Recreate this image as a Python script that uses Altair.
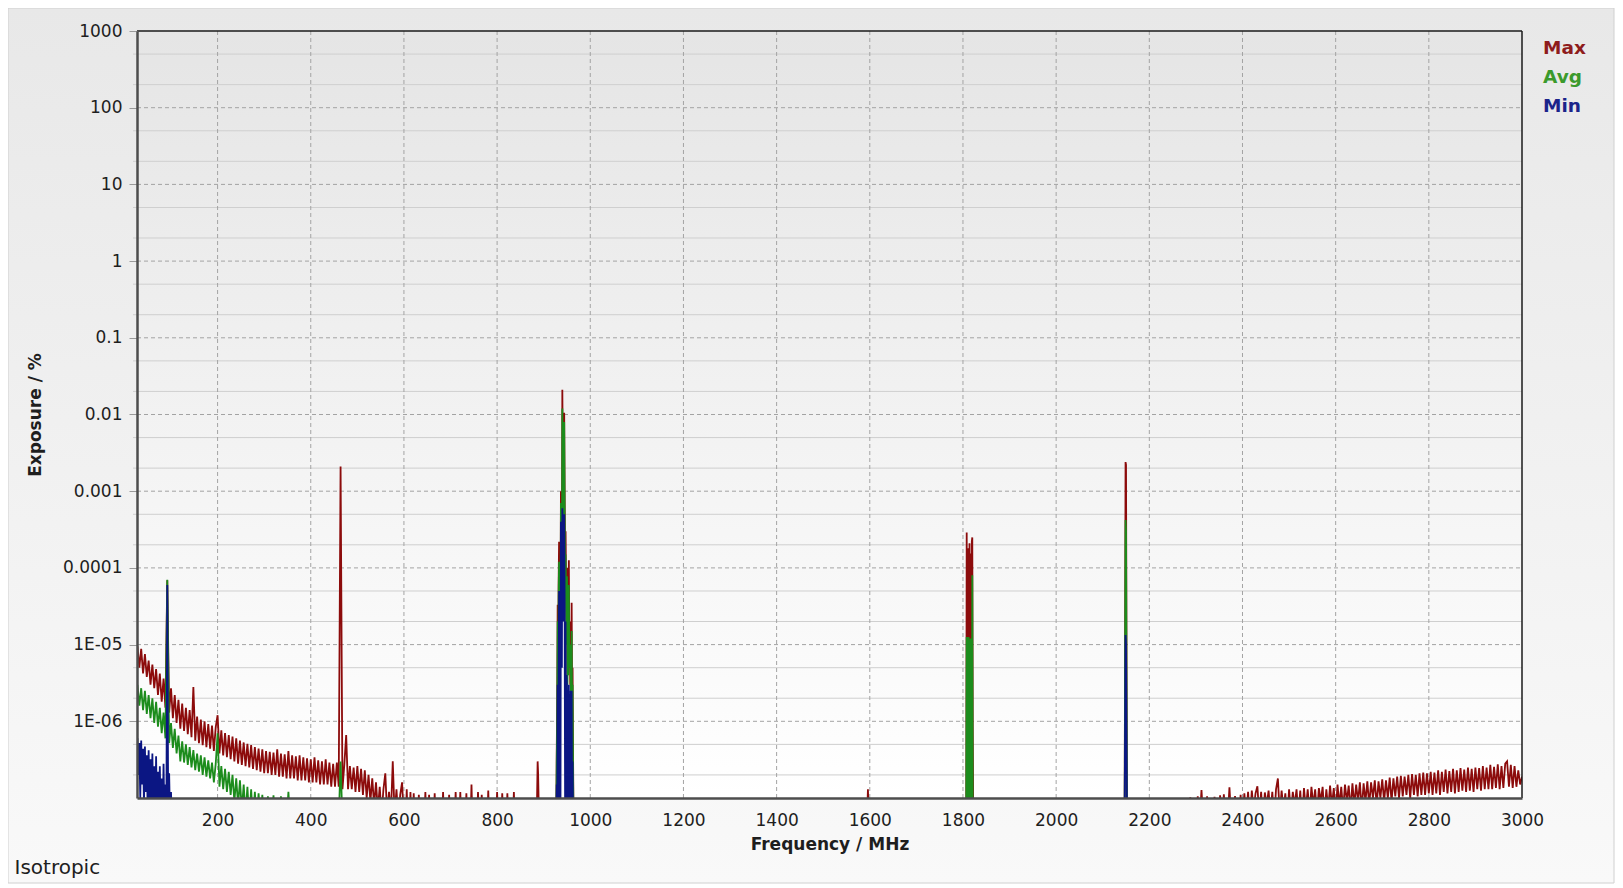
import altair as alt
import pandas as pd

# ---------------- data: Exposure (%) against Frequency (MHz) ----------------
UNIT = 1e-7      # noise-band readings below are written in units of 1e-7 %
BELOW = 5e-8     # readings under the bottom of the plotted range

X_TICKS = [200, 400, 600, 800, 1000, 1200, 1400, 1600, 1800, 2000, 2200, 2400, 2600, 2800, 3000]
X_GRID = [200, 400, 600, 800, 1000, 1200, 1400, 1600, 1800, 2000, 2200, 2400, 2600, 2800]
Y_MAJOR = [1e-6, 1e-5, 1e-4, 1e-3, 1e-2, 0.1, 1, 10, 100, 1000]
Y_GRID_MAJOR = [1e-6, 1e-5, 1e-4, 1e-3, 1e-2, 0.1, 1, 10, 100]
Y_GRID_MINOR = [2e-7, 5e-7, 2e-6, 5e-6, 2e-5, 5e-5, 2e-4, 5e-4, 2e-3, 5e-3,
                0.02, 0.05, 0.2, 0.5, 2, 5, 20, 50, 200, 500]

SERIES = ["Max", "Avg", "Min"]
SERIES_COLORS = ["#8c0b0b", "#1c8c1c", "#0b1683"]
LEGEND_COLORS = ["#8e1c1c", "#3b9a2c", "#1b248a"]

# ---- Max: low-frequency band (sweep from 28 MHz, 4 MHz apart), units of 1e-7
MAX_LOW_START, MAX_LOW_STEP = 28, 4
MAX_LOW = [
    95, 50, 88, 42, 75, 38, 62, 30, 55, 27,
    48, 22, 42, 18, 36, 15, 690, 13, 27, 11,
    22, 9.5, 19, 8, 17, 7.5, 15, 6.8, 14, 6.2,
    28, 5.6, 11.5, 5.2, 10.5, 4.9, 10, 4.6, 9.2, 4.4,
    8.8, 4.1, 8.4, 12, 3.8, 7.6, 3.6, 7.0, 3.4, 6.6,
    3.2, 6.3, 3.0, 6.0, 2.8, 5.6, 2.7, 5.3, 2.6, 5.1,
    2.5, 4.9, 2.4, 4.6, 2.3, 4.4, 2.2, 4.3, 2.1, 4.1,
    2.1, 4.0, 2.0, 3.9, 2.0, 4.3, 1.9, 3.8, 1.9, 3.7,
    1.8, 4.1, 1.8, 3.6, 1.8, 3.5, 1.7, 3.6, 1.7, 3.4,
    1.7, 3.3, 1.6, 3.2, 1.6, 3.4, 1.6, 3.1, 1.5, 3.0,
    1.5, 3.2, 1.5, 2.9, 1.4, 2.8, 1.4, 2.9, 1.4, 21000,
    1.3, 2.7, 6.6, 1.3, 2.6, 1.3, 2.5, 1.2, 2.6, 1.2,
    2.4, 1.1, 2.3, 1.0, 2.0, 0.9, 1.8, 0.8, 1.6, 0.7,
    1.4, 0.6, 1.3, 2.1, 0.6, 1.2, 0.6, 3.0, 0.6, 1.3,
    0.5, 1.1, 1.6,
]
# ---- Max: sparse spikes 600-890 MHz, units of 1e-7
MAX_MID_F = [600,
             604, 606, 608, 612, 614, 616, 619, 621, 623, 630, 632, 634,
             644, 646, 648, 652, 654, 656, 664, 666, 668, 682, 684, 686,
             695, 697, 699, 709, 711, 713, 719, 721, 723, 732, 734, 736,
             743, 745, 747, 757, 759, 761, 765, 767, 769, 779, 781, 783,
             798, 800, 802, 809, 811, 813, 820, 822, 824, 834, 836, 838,
             885, 887, 888, 890]
MAX_MID = [0.5,
           0.5, 1.3, 0.5, 0.5, 1.2, 0.5, 0.5, 1.15, 0.5, 0.5, 1.1, 0.5,
           0.5, 1.2, 0.5, 0.5, 1.1, 0.5, 0.5, 1.15, 0.5, 0.5, 1.2, 0.5,
           0.5, 1.1, 0.5, 0.5, 1.2, 0.5, 0.5, 1.2, 0.5, 0.5, 1.15, 0.5,
           0.5, 1.5, 0.5, 0.5, 1.2, 0.5, 0.5, 1.1, 0.5, 0.5, 1.25, 0.5,
           0.5, 1.2, 0.5, 0.5, 1.15, 0.5, 0.5, 1.15, 0.5, 0.5, 1.2, 0.5,
           0.5, 3.0, 2.1, 0.5]
# ---- GSM 900 cluster (1 MHz apart), values in %
CLUSTER_F = list(range(927, 965))
MAX_CLUSTER = [5e-8, 4e-7, 2e-6, 3.3e-5, 1e-6, 6e-5, 2.2e-4, 3e-6, 8e-5, 2e-5,
               1e-3, 3e-4, 5e-5, 0.021, 3e-3, 2e-4, 4e-3, 0.0105, 9e-4, 8e-5,
               3e-4, 6e-5, 2e-5, 1e-4, 4e-6, 2e-5, 5e-6, 1.26e-4, 1e-5, 2e-5,
               3e-6, 1e-5, 1e-6, 3.5e-5, 2e-6, 5e-6, 4e-7, 5e-8]
AVG_CLUSTER = [5e-8, 3e-7, 1e-6, 2e-5, 5e-7, 4e-5, 1.2e-4, 2e-6, 5e-5, 1e-5,
               7e-4, 2e-4, 3e-5, 0.012, 2e-3, 1.5e-4, 3e-3, 0.008, 5e-4, 5e-5,
               1.5e-4, 3e-5, 1e-5, 7.8e-5, 3e-6, 1.2e-5, 4e-6, 6e-5, 5e-6, 1e-5,
               7.8e-6, 4e-6, 5e-7, 1.5e-5, 8e-7, 3e-6, 2e-7, 5e-8]
MIN_CLUSTER = [5e-8, 1.5e-7, 5e-8, 3e-6, 5e-8, 5e-6, 5e-5, 5e-8, 2e-5, 5e-8,
               4e-4, 8e-5, 5e-6, 6e-4, 3e-4, 2e-5, 2e-4, 5e-4, 3e-5, 5e-8,
               2e-5, 5e-8, 4e-6, 3e-6, 5e-8, 2.5e-6, 5e-8, 3e-6, 5e-8, 2e-6,
               5e-8, 2.5e-6, 5e-8, 2.5e-6, 5e-8, 3e-7, 5e-8, 5e-8]
# ---- single spike near 1596 MHz, units of 1e-7
MAX_1596_F = [1594, 1596, 1598]
MAX_1596 = [0.5, 1.3, 0.5]
# ---- GSM 1800 cluster (1 MHz apart), values in %
GSM_F = list(range(1806, 1823))
MAX_GSM = [5e-8, 5e-8, 2.9e-4, 1e-6, 1.5e-4, 2e-6, 1.8e-4, 1e-6, 2.1e-4, 3e-6,
           1.5e-4, 1.5e-4, 2e-6, 2.2e-4, 2.5e-4, 1e-6, 5e-8]
AVG_GSM = [5e-8, 5e-8, 1.26e-5, 5e-8, 1.2e-5, 2e-7, 1.26e-5, 5e-8, 1.1e-5, 3e-7,
           1.2e-5, 5e-8, 1.2e-5, 2e-7, 8e-5, 5e-8, 5e-8]
# ---- UMTS carrier near 2150 MHz, values in %
UMTS_F = [2147, 2149, 2150, 2152]
MAX_UMTS = [5e-8, 2.4e-3, 2.2e-3, 5e-8]
AVG_UMTS = [5e-8, 4.2e-4, 3.0e-4, 5e-8]
MIN_UMTS = [5e-8, 1.33e-5, 1.0e-5, 5e-8]
# ---- Max: high-frequency noise (sweep from 2260 MHz, 4 MHz apart), units of 1e-7
MAX_HIGH_START, MAX_HIGH_STEP = 2260, 4
MAX_HIGH = [
    0.5, 0.5, 0.5, 0.5, 0.5, 0.5, 0.5, 1.02, 0.5, 0.5,
    0.5, 1.05, 0.5, 1.27, 0.5, 0.5, 1.05, 0.5, 0.5, 0.5,
    1.04, 0.5, 0.5, 1.08, 0.5, 1.12, 0.5, 0.5, 1.38, 0.5,
    0.5, 1.06, 0.5, 0.5, 1.1, 0.5, 1.15, 0.6, 1.2, 0.5,
    1.25, 0.7, 1.15, 1.42, 0.6, 1.2, 0.5, 1.18, 0.8, 1.25,
    0.6, 1.2, 0.5, 1.3, 1.8, 0.6, 1.25, 0.7, 1.15, 0.5,
    1.3, 0.6, 1.2, 0.8, 1.3, 0.6, 1.25, 0.5, 1.35, 0.7,
    1.3, 0.6, 1.4, 0.8, 1.3, 0.6, 1.35, 0.9, 1.4, 0.6,
    1.3, 0.7, 1.45, 0.8, 1.35, 0.6, 1.5, 0.8, 1.4, 0.7,
    1.5, 0.9, 1.45, 0.7, 1.55, 0.8, 1.5, 0.9, 1.6, 0.7,
    1.55, 0.9, 1.65, 0.8, 1.6, 1.0, 1.7, 0.8, 1.65, 1.0,
    1.75, 0.9, 1.7, 1.0, 1.85, 0.9, 1.8, 1.05, 1.9, 1.0,
    1.95, 1.05, 1.9, 1.1, 2.0, 1.0, 2.05, 1.1, 2.0, 1.05,
    2.1, 1.1, 2.15, 1.1, 2.1, 1.15, 2.2, 1.1, 2.15, 1.15,
    2.3, 1.1, 2.2, 1.2, 2.35, 1.15, 2.25, 1.2, 2.4, 1.15,
    2.3, 1.2, 2.45, 1.25, 2.35, 1.2, 2.5, 1.25, 2.4, 1.2,
    2.5, 1.3, 2.45, 1.25, 2.6, 1.3, 2.5, 1.3, 2.7, 1.3,
    2.55, 1.35, 2.75, 1.3, 2.6, 1.35, 2.8, 3.0, 1.4, 2.7,
    1.35, 2.6, 1.4, 2.3, 1.5, 1.9,
]
# ---- Avg: low-frequency band (sweep from 28 MHz, 4 MHz apart), units of 1e-7
AVG_LOW_START, AVG_LOW_STEP = 28, 4
AVG_LOW = [
    30, 16, 27, 14, 25, 12.5, 22, 11, 20, 9.5,
    18, 8.5, 15, 7, 13, 6, 700, 5.2, 9.5, 4.5,
    8, 3.8, 6.5, 3.0, 5.5, 2.9, 5.0, 2.7, 4.6, 2.5,
    4.2, 2.3, 3.8, 2.2, 3.6, 2.0, 3.4, 1.9, 3.1, 1.8,
    2.9, 1.6, 2.8, 7.0, 1.4, 2.6, 1.3, 2.4, 1.2, 2.2,
    1.1, 2.0, 0.9, 1.8, 0.8, 1.7, 0.7, 1.5, 0.6, 1.4,
    0.5, 1.3, 0.5, 1.2, 0.5, 1.15, 0.5, 1.1, 0.5, 0.5,
    1.05, 0.5, 0.5, 1.08, 0.5, 0.5, 0.5, 1.05, 0.5, 0.5,
    0.5, 1.2, 0.5, 0.5, 0.5, 0.5, 0.5, 0.5, 0.5, 0.5,
    0.5, 0.5, 0.5, 0.5, 0.5, 0.5, 0.5, 0.5, 0.5, 0.5,
    0.5, 0.5, 0.5, 0.5, 0.5, 0.5, 0.5, 0.5, 0.5, 3.0,
    0.5,
]
# ---- Min: low-frequency band (sweep from 28 MHz, 2 MHz apart), units of 1e-7
MIN_LOW_START, MIN_LOW_STEP = 28, 2
MIN_LOW = [
    6.0, 2.0, 5.2, 1.0, 5.6, 1.5, 4.4, 0.8, 4.7, 1.2,
    3.6, 0.6, 4.2, 0.9, 3.2, 0.5, 3.8, 0.7, 2.6, 0.5,
    3.5, 0.5, 2.2, 0.5, 2.6, 0.5, 1.8, 0.5, 2.8, 0.5,
    1.5, 0.5, 600, 0.5, 2.1, 0.5, 1.2, 0.5, 0.5,
]


def sweep(start, step, vals, unit=UNIT):
    return [(start + step * i, v * unit) for i, v in enumerate(vals)]


def pairs(freqs, vals, unit=1.0):
    return [(f, v * unit) for f, v in zip(freqs, vals)]


df_max = pd.DataFrame(
    sweep(MAX_LOW_START, MAX_LOW_STEP, MAX_LOW)
    + pairs(MAX_MID_F, MAX_MID, UNIT)
    + pairs(CLUSTER_F, MAX_CLUSTER)
    + pairs(MAX_1596_F, MAX_1596, UNIT)
    + pairs(GSM_F, MAX_GSM)
    + pairs(UMTS_F, MAX_UMTS)
    + sweep(MAX_HIGH_START, MAX_HIGH_STEP, MAX_HIGH),
    columns=["f", "v"])
df_avg = pd.DataFrame(
    sweep(AVG_LOW_START, AVG_LOW_STEP, AVG_LOW)
    + pairs(CLUSTER_F, AVG_CLUSTER)
    + pairs(GSM_F, AVG_GSM)
    + pairs(UMTS_F, AVG_UMTS)
    + [(3000, BELOW)],
    columns=["f", "v"])
df_min = pd.DataFrame(
    sweep(MIN_LOW_START, MIN_LOW_STEP, MIN_LOW)
    + pairs(CLUSTER_F, MIN_CLUSTER)
    + pairs(UMTS_F, MIN_UMTS)
    + [(3000, BELOW)],
    columns=["f", "v"])

# ---------------- layout / style ----------------
W, H = 1385, 767
FONT = "DejaVu Sans"
TXT = "#1e1e1e"

xs = alt.Scale(domain=[27, 3000], nice=False, zero=False)
ys = alt.Scale(type="log", domain=[1e-7, 1000], nice=False)

LABEL_EXPR = ("datum.value >= 1 ? format(datum.value, 'd') : "
              "(datum.value >= 0.0001 ? format(datum.value, '.' + round(-log(datum.value) / LN10) + 'f') : "
              "'1E-0' + round(-log(datum.value) / LN10))")

X_AX = alt.Axis(values=X_TICKS, format="d", grid=False, ticks=False, tickSize=0,
                domainColor="#4d4d4d", domainWidth=2.5,
                labelFont=FONT, labelFontSize=17, labelColor=TXT, labelPadding=14,
                labelFlush=False, labelOverlap=False,
                title="Frequency / MHz", titleFont=FONT, titleFontSize=17,
                titleFontWeight="bold", titleColor=TXT, titleBaseline="alphabetic",
                titleAlign="center", titleX=W / 2, titleY=51, zindex=1)
Y_AX = alt.Axis(values=Y_MAJOR, grid=False, ticks=True, tickSize=8,
                tickColor="#9a9a9a", tickWidth=1,
                domainColor="#4d4d4d", domainWidth=2.5,
                labelExpr=LABEL_EXPR, labelFont=FONT, labelFontSize=17,
                labelColor=TXT, labelPadding=7, labelFlush=False, labelOverlap=False,
                title="Exposure / %", titleFont=FONT, titleFontSize=17,
                titleFontWeight="bold", titleColor=TXT, titleAngle=270,
                titleBaseline="alphabetic", titleAlign="center",
                titleX=-97, titleY=H / 2, zindex=1)

ONE = pd.DataFrame({"k": [0]})

outer_bg = alt.Chart(ONE).mark_rect(
    color=alt.LinearGradient(gradient="linear",
                             stops=[alt.GradientStop(color="#e8e8e8", offset=0),
                                    alt.GradientStop(color="#f9f9f9", offset=1)],
                             x1=0, x2=0, y1=0, y2=1),
    stroke="#d0d0d0", strokeWidth=1,
).encode(x=alt.value(-129), x2=alt.value(W + 92), y=alt.value(-23), y2=alt.value(H + 85))

plot_bg = alt.Chart(ONE).mark_rect(
    color=alt.LinearGradient(gradient="linear",
                             stops=[alt.GradientStop(color="#e5e5e5", offset=0),
                                    alt.GradientStop(color="#ffffff", offset=1)],
                             x1=0, x2=0, y1=0, y2=1),
).encode(x=alt.value(0), x2=alt.value(W), y=alt.value(0), y2=alt.value(H))

minor_grid = alt.Chart(pd.DataFrame({"v": Y_GRID_MINOR})).mark_rule(
    color="#cfcfcf", strokeWidth=1
).encode(y=alt.Y("v:Q", scale=ys, axis=Y_AX), x=alt.value(-4), x2=alt.value(W))

major_grid = alt.Chart(pd.DataFrame({"v": Y_GRID_MAJOR})).mark_rule(
    color="#a3a3a3", strokeWidth=1, strokeDash=[4, 3]
).encode(y=alt.Y("v:Q", scale=ys, axis=Y_AX), x=alt.value(0), x2=alt.value(W))

v_grid = alt.Chart(pd.DataFrame({"f": X_GRID})).mark_rule(
    color="#a3a3a3", strokeWidth=1, strokeDash=[4, 3]
).encode(x=alt.X("f:Q", scale=xs, axis=X_AX), y=alt.value(0), y2=alt.value(H))


def series_line(df, color):
    return alt.Chart(df).mark_line(color=color, strokeWidth=1.8, clip=True).encode(
        x=alt.X("f:Q", scale=xs, axis=X_AX),
        y=alt.Y("v:Q", scale=ys, axis=Y_AX),
    )


line_max = series_line(df_max, SERIES_COLORS[0])
line_avg = series_line(df_avg, SERIES_COLORS[1])
line_min = series_line(df_min, SERIES_COLORS[2])

border_top = alt.Chart(ONE).mark_rule(color="#1a1a1a", strokeWidth=1.5).encode(
    x=alt.value(0), x2=alt.value(W), y=alt.value(0))
border_right = alt.Chart(ONE).mark_rule(color="#1a1a1a", strokeWidth=1.5).encode(
    x=alt.value(W), y=alt.value(0), y2=alt.value(H))

legend_layers = []
for i, (name, col) in enumerate(zip(SERIES, LEGEND_COLORS)):
    legend_layers.append(
        alt.Chart(ONE).mark_text(font=FONT, fontSize=18.5, fontWeight="bold",
                                 align="left", baseline="alphabetic", color=col).encode(
            x=alt.value(1406), y=alt.value(22.6 + 29.2 * i), text=alt.value(name))
    )

iso = alt.Chart(ONE).mark_text(font=FONT, fontSize=20, align="left",
                               baseline="alphabetic", color=TXT).encode(
    x=alt.value(-122.5), y=alt.value(843), text=alt.value("Isotropic"))

chart = alt.layer(
    outer_bg, plot_bg, minor_grid, major_grid, v_grid,
    line_max, line_avg, line_min,
    border_top, border_right, *legend_layers, iso,
).properties(
    width=W, height=H,
    padding={"left": 129, "top": 23, "right": 93, "bottom": 86},
    autosize=alt.AutoSizeParams(type="none"),
).configure_view(strokeWidth=0)

chart.save("out.html", embed_options={"renderer": "svg", "actions": False})
